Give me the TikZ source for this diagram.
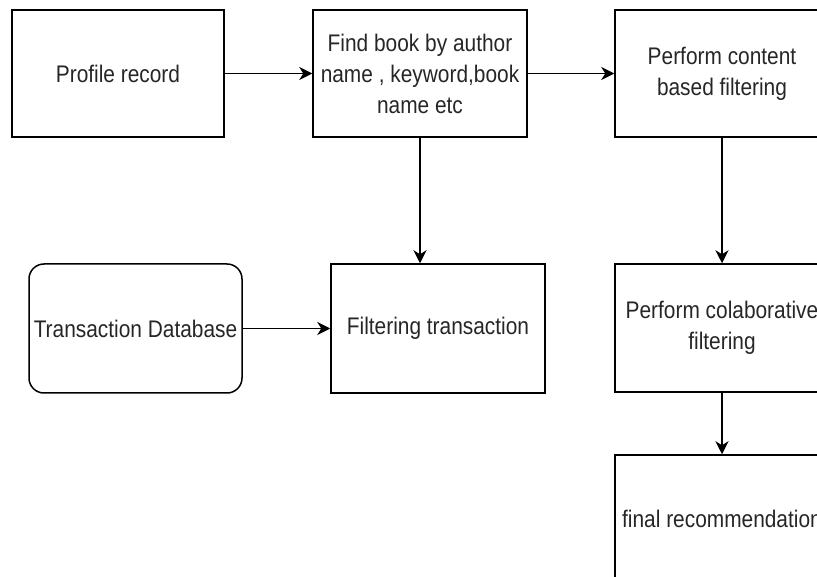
\documentclass[tikz,border=0pt]{standalone}
\usepackage{fontspec}
\setmainfont{Liberation Sans}[FakeStretch=0.87]
\usetikzlibrary{arrows.meta}
\begin{document}
\begin{tikzpicture}[x=1pt,y=-1pt,
  box/.style={draw=black,line width=1.5pt,minimum width=214pt,minimum height=127pt,
    inner sep=0pt,align=center,text=black!85,font=\fontsize{24}{31}\selectfont},
  rbox/.style={box,rounded corners=15pt},
  arr/.style={line width=1.5pt,-{Stealth[length=13pt,width=13pt,inset=4pt]}}]
\useasboundingbox (0,0) rectangle (817,577);
\clip (0,0) rectangle (817,577);
\node[box,minimum width=212pt] (pr) at (118,73.5) {Profile record};
\node[box] (fb) at (420,73.5) {Find book by author\\name , keyword,book\\name etc};
\node[box] (cb) at (722,73.5) {Perform content\\based filtering};
\node[rbox,minimum width=213pt,minimum height=129pt] (td) at (135.5,328.5) {Transaction Database};
\node[box,minimum height=129pt] (ft) at (438,328.5) {Filtering transaction};
\node[box,minimum height=128pt] (cf) at (722,328) {Perform colaborative\\filtering};
\node[box,minimum height=128pt] (fr) at (722,519) {final recommendation};
\draw[arr] (pr) -- (fb);
\draw[arr] (fb) -- (cb);
\draw[arr] (fb.south) -- (fb.south |- ft.north);
\draw[arr] (td) -- (ft);
\draw[arr] (cb) -- (cf);
\draw[arr] (cf) -- (fr);
\end{tikzpicture}
\end{document}
